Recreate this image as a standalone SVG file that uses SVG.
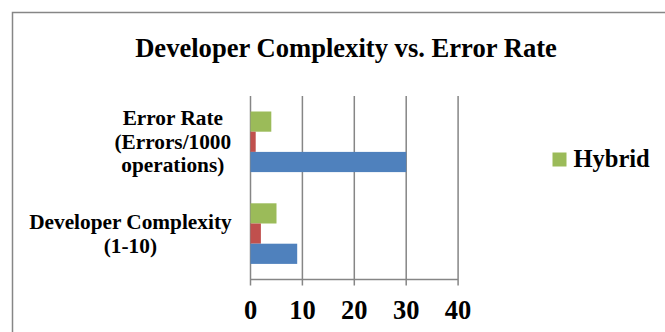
<svg xmlns="http://www.w3.org/2000/svg" width="665" height="332" viewBox="0 0 665 332">
  <style>
    .t { font-family: "Liberation Serif", "Times New Roman", serif; font-weight: bold; fill: #000; }
    .grid { stroke: #868686; stroke-width: 1.5; fill: none; }
    .frame { stroke: #868686; stroke-width: 1.5; fill: none; }
    .s1 { fill: #4F81BD; }
    .s2 { fill: #C0504D; }
    .s3 { fill: #9BBB59; }
  </style>
  <rect width="665" height="332" fill="#ffffff"/>
  <path class="frame" d="M12.5,332 V12.5 H665"/>
  <g id="title">
    <text class="t" x="346" y="56.5" font-size="26.6" text-anchor="middle">Developer Complexity vs. Error Rate</text>
  </g>
  <g id="grid">
    <path class="grid" d="M250.5,96 V285.5 M302.4,96 V285.5 M354.3,96 V285.5 M406.2,96 V285.5 M458.1,96 V285.5 M250.5,279.5 H458.1"/>
  </g>
  <g id="x-axis-labels">
    <text class="t" x="250.5" y="319" font-size="26.5" text-anchor="middle">0</text>
    <text class="t" x="302.4" y="319" font-size="26.5" text-anchor="middle">10</text>
    <text class="t" x="354.3" y="319" font-size="26.5" text-anchor="middle">20</text>
    <text class="t" x="406.2" y="319" font-size="26.5" text-anchor="middle">30</text>
    <text class="t" x="458.1" y="319" font-size="26.5" text-anchor="middle">40</text>
  </g>
  <g id="cat-error-rate">
    <text class="t" x="172.8" y="125" font-size="21.3" text-anchor="middle">Error Rate</text>
    <text class="t" x="172.8" y="148.5" font-size="21.3" text-anchor="middle">(Errors/1000</text>
    <text class="t" x="172.8" y="172" font-size="21.3" text-anchor="middle">operations)</text>
    <rect class="s3" x="250.5" y="111.5" width="20.8" height="20.2"/>
    <rect class="s2" x="250.5" y="131.7" width="5.2" height="20.2"/>
    <rect class="s1" x="250.5" y="151.9" width="155.7" height="20.2"/>
  </g>
  <g id="cat-developer-complexity">
    <text class="t" x="130.4" y="229" font-size="21.3" text-anchor="middle">Developer Complexity</text>
    <text class="t" x="130.4" y="252.5" font-size="21.3" text-anchor="middle">(1-10)</text>
    <rect class="s3" x="250.5" y="203.3" width="26" height="20.2"/>
    <rect class="s2" x="250.5" y="223.5" width="10.4" height="20.2"/>
    <rect class="s1" x="250.5" y="243.7" width="46.7" height="20.2"/>
  </g>
  <g id="legend">
    <rect class="s3" x="552.5" y="152.5" width="14" height="14"/>
    <text class="t" x="573.5" y="166.5" font-size="24.5">Hybrid</text>
  </g>
</svg>
